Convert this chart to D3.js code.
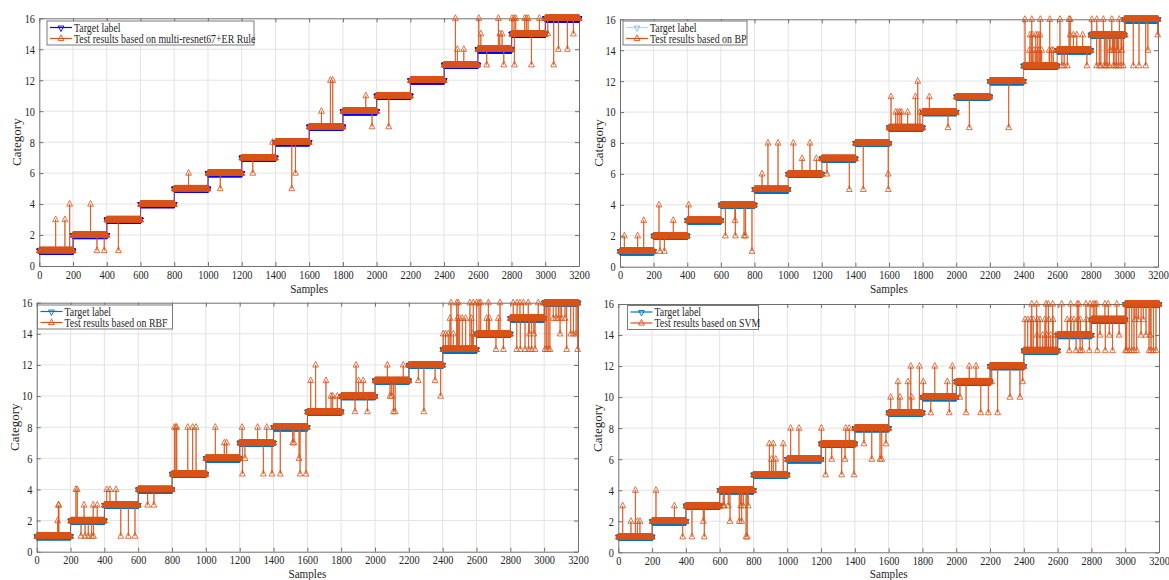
<!DOCTYPE html>
<html>
<head>
<meta charset="utf-8">
<script src="https://cdn.jsdelivr.net/npm/d3@7"></script>
<style>
  body { margin: 0; background: #fff; }
  svg text { font-family: "Liberation Serif", "Times New Roman", serif; fill: #262626; }
</style>
</head>
<body>
<div id="chart"></div>
<script>
// categories 1..16, 200 test samples each
const classes = [1, 2, 3, 4, 5, 6, 7, 8, 9, 10, 11, 12, 13, 14, 15, 16];
const samplesPerClass = 200;
const xTicks = [0, 200, 400, 600, 800, 1000, 1200, 1400, 1600, 1800, 2000, 2200, 2400, 2600, 2800, 3000, 3200];
const yTicks = [0, 2, 4, 6, 8, 10, 12, 14, 16];

// misclassified samples: [sample, predicted category]
const resnetErrors = [
  [97, 3], [152, 3], [180, 4], [304, 4], [342, 1], [385, 1], [469, 1], [885, 6], [1073, 5], [1266, 6],
  [1383, 8], [1497, 5], [1519, 6], [1673, 10], [1726, 12], [1740, 12], [1936, 11], [1973, 9],
  [2072, 9], [2467, 16], [2479, 14], [2517, 14], [2606, 16], [2618, 15], [2653, 13], [2722, 16], [2730, 15],
  [2744, 15], [2754, 13], [2803, 16], [2815, 16], [2817, 13], [2825, 16], [2878, 16], [2888, 16], [2898, 16],
  [2918, 13], [2965, 16], [3015, 15], [3050, 13], [3078, 14], [3131, 14], [3167, 15]
];
const bpErrors = [
  [26, 2], [105, 2], [141, 3], [232, 4], [238, 1], [264, 1], [317, 3], [408, 4], [627, 2], [684, 3], [686, 2],
  [738, 2], [747, 2], [785, 1], [845, 6], [880, 8], [940, 8], [1031, 8], [1083, 7], [1130, 8], [1168, 7],
  [1231, 6], [1364, 5], [1447, 5], [1595, 6], [1596, 5], [1612, 11], [1640, 10], [1652, 10], [1665, 10],
  [1675, 10], [1711, 10], [1757, 11], [1771, 12], [1784, 10], [1840, 11], [1951, 9], [2078, 9], [2312, 9],
  [2409, 16], [2435, 14], [2439, 15], [2449, 16], [2452, 15], [2462, 14], [2473, 15], [2478, 14], [2485, 15],
  [2492, 14], [2498, 15], [2500, 16], [2508, 14], [2553, 14], [2556, 16], [2568, 14], [2577, 14],
  [2617, 16], [2628, 13], [2642, 13], [2661, 13], [2671, 16], [2677, 15], [2678, 16], [2697, 15], [2717, 15],
  [2752, 15], [2777, 13], [2806, 16], [2835, 13], [2836, 16], [2851, 13], [2860, 13], [2875, 16], [2881, 13],
  [2890, 13], [2897, 13], [2911, 13], [2915, 14], [2925, 16], [2929, 14], [2935, 13], [2940, 14], [2944, 13],
  [2954, 13], [2960, 14], [2966, 13], [2970, 16], [2980, 13], [2985, 14], [2994, 13], [3005, 15], [3053, 13],
  [3087, 13], [3127, 13], [3140, 14], [3198, 15]
];
const rbfErrors = [
  [124, 2], [128, 3], [131, 3], [232, 4], [240, 4], [262, 1], [280, 3], [286, 1], [305, 1], [325, 1], [334, 3],
  [336, 1], [358, 3], [414, 4], [433, 4], [469, 4], [497, 1], [542, 1], [581, 1], [656, 3], [693, 3], [814, 8],
  [823, 8], [828, 8], [893, 8], [922, 8], [942, 8], [1056, 8], [1109, 7], [1123, 7], [1214, 8], [1216, 5],
  [1231, 6], [1306, 8], [1340, 5], [1360, 8], [1391, 5], [1440, 5], [1513, 7], [1521, 7], [1551, 6], [1557, 5],
  [1592, 5], [1620, 11], [1649, 12], [1710, 11], [1740, 10], [1750, 10], [1777, 10], [1882, 9], [1888, 12],
  [1903, 11], [1930, 11], [1955, 9], [2073, 12], [2089, 10], [2099, 10], [2109, 9], [2119, 9], [2167, 12],
  [2256, 11], [2289, 9], [2355, 11], [2388, 10], [2403, 14], [2417, 14], [2433, 14], [2443, 15], [2449, 16],
  [2463, 14], [2483, 16], [2487, 15], [2492, 16], [2500, 15], [2516, 15], [2536, 15], [2561, 16], [2570, 15],
  [2577, 14], [2581, 16], [2601, 16], [2615, 16], [2625, 16], [2660, 15], [2670, 16], [2676, 15], [2715, 13],
  [2729, 15], [2739, 16], [2759, 13], [2817, 16], [2838, 13], [2840, 16], [2857, 16], [2859, 13], [2877, 16],
  [2887, 13], [2906, 16], [2908, 13], [2912, 14], [2926, 13], [2939, 14], [2946, 13], [2965, 16], [3005, 13],
  [3015, 13], [3024, 13], [3034, 13], [3054, 15], [3070, 15], [3084, 15], [3094, 14], [3103, 15], [3123, 15],
  [3133, 13], [3157, 14], [3173, 14], [3189, 14], [3198, 13]
];
const svmErrors = [
  [26, 3], [75, 2], [101, 4], [113, 2], [128, 2], [223, 4], [332, 3], [381, 1], [436, 1], [503, 2], [509, 1],
  [621, 3], [627, 3], [651, 3], [661, 2], [716, 2], [725, 3], [730, 2], [740, 3], [756, 1], [763, 1], [769, 3],
  [894, 7], [907, 6], [917, 7], [932, 6], [976, 7], [1020, 8], [1069, 8], [1202, 8], [1227, 5], [1263, 6],
  [1322, 5], [1342, 6], [1346, 8], [1367, 8], [1395, 5], [1454, 7], [1500, 6], [1549, 6], [1559, 6], [1584, 7],
  [1612, 10], [1655, 11], [1667, 10], [1714, 11], [1731, 12], [1736, 10], [1782, 12], [1805, 11], [1849, 9],
  [1873, 12], [1947, 11], [1959, 9], [1977, 12], [2022, 10], [2058, 9], [2077, 12], [2117, 12], [2145, 9],
  [2190, 9], [2210, 11], [2245, 9], [2318, 10], [2377, 10], [2393, 11], [2407, 15], [2423, 15], [2441, 15],
  [2447, 16], [2456, 15], [2476, 16], [2478, 14], [2482, 15], [2496, 15], [2512, 14], [2525, 15], [2531, 16],
  [2535, 14], [2545, 16], [2547, 15], [2559, 14], [2571, 16], [2573, 15], [2590, 14], [2624, 16], [2657, 15],
  [2669, 13], [2677, 16], [2679, 15], [2697, 15], [2709, 13], [2716, 16], [2721, 15], [2725, 16], [2733, 13],
  [2735, 15], [2746, 13], [2768, 16], [2771, 15], [2788, 13], [2792, 16], [2811, 16], [2821, 16], [2831, 16],
  [2835, 13], [2851, 14], [2880, 16], [2882, 13], [2900, 16], [2906, 14], [2925, 13], [2950, 16], [2964, 14],
  [3002, 13], [3009, 13], [3024, 13], [3039, 13], [3052, 13], [3058, 15], [3068, 13], [3078, 15], [3094, 14],
  [3107, 15], [3123, 14], [3141, 13], [3147, 14], [3153, 13], [3167, 13], [3182, 13]
];

const orange = "#D95319";
const squeeze = 0.86;   // the source figure is a bit narrower than tall

const panels = [
  {errors: resnetErrors, name: "Test results based on multi-resnet67+ER Rule",
   x0: 39.3, x1: 579, y0: 266, y1: 18.3, tColor: "#0000FF", tLine: "#0000FF",
   leg: {x: 47, y: 21, w: 207}, ylab: 16, xlab: 293},
  {errors: bpErrors, name: "Test results based on BP",
   x0: 620, x1: 1158, y0: 266.7, y1: 19.3, tColor: "#0072BD", tLine: "#a9dcf5", mLeg: "#7cc3ea",
   leg: {x: 623, y: 21, w: 124}, ylab: 598, xlab: 293},
  {errors: rbfErrors, name: "Test results based on RBF",
   x0: 36.7, x1: 578, y0: 551.7, y1: 302.7, tColor: "#0072BD", tLine: "#0072BD",
   leg: {x: 37.5, y: 305, w: 135}, ylab: 14, xlab: 577.5},
  {errors: svmErrors, name: "Test results based on SVM",
   x0: 618.3, x1: 1159, y0: 552.3, y1: 304, tColor: "#0072BD", tLine: "#0072BD",
   leg: {x: 627.5, y: 305.5, w: 131}, ylab: 597, xlab: 577.5}
];

const svg = d3.select("#chart").append("svg")
  .attr("width", 1169).attr("height", 580);

function triangles(pts, x, y, up) {
  let d = "";
  pts.forEach(p => {
    const cx = x(p.s), cy = y(p.v);
    if (up) d += `M${cx},${cy - 3.6}L${cx + 2.9},${cy + 2.1}L${cx - 2.9},${cy + 2.1}Z`;
    else d += `M${cx - 2.9},${cy - 1.5}L${cx + 2.9},${cy - 1.5}L${cx},${cy + 4}Z`;
  });
  return d;
}

panels.forEach(p => {
  const g = svg.append("g");
  const x = d3.scaleLinear().domain([0, 3200]).range([p.x0, p.x1]);
  const y = d3.scaleLinear().domain([0, 16]).range([p.y0, p.y1]);

  // series
  const target = [];
  classes.forEach(c => {
    for (let k = 0; k < samplesPerClass; k++) target.push({s: target.length + 1, v: c});
  });
  const test = target.map(d => ({s: d.s, v: d.v}));
  p.errors.forEach(([s, v]) => { test[s - 1].v = v; });

  // grid
  g.selectAll(".gx").data(xTicks.slice(1, -1)).enter().append("line")
    .attr("x1", d => x(d)).attr("x2", d => x(d))
    .attr("y1", p.y0).attr("y2", p.y1)
    .attr("stroke", "#e3e3e3").attr("stroke-width", 1);
  g.selectAll(".gy").data(yTicks.slice(1, -1)).enter().append("line")
    .attr("x1", p.x0).attr("x2", p.x1)
    .attr("y1", d => y(d)).attr("y2", d => y(d))
    .attr("stroke", "#e3e3e3").attr("stroke-width", 1);

  // axes, ticks inside on every side
  const fmt = d3.format("d");
  const ax = [
    g.append("g").attr("transform", `translate(0,${p.y0})`)
      .call(d3.axisBottom(x).tickValues(xTicks).tickFormat(fmt).tickSizeInner(-4).tickSizeOuter(0).tickPadding(4)),
    g.append("g").attr("transform", `translate(${p.x0},0)`)
      .call(d3.axisLeft(y).tickValues(yTicks).tickFormat(fmt).tickSizeInner(-4).tickSizeOuter(0).tickPadding(5)),
    g.append("g").attr("transform", `translate(0,${p.y1})`)
      .call(d3.axisTop(x).tickValues(xTicks).tickSizeInner(-4).tickSizeOuter(0).tickFormat("")),
    g.append("g").attr("transform", `translate(${p.x1},0)`)
      .call(d3.axisRight(y).tickValues(yTicks).tickSizeInner(-4).tickSizeOuter(0).tickFormat(""))
  ];
  ax.forEach(a => {
    a.select(".domain").attr("stroke", "#6f6f6f");
    a.selectAll(".tick line").attr("stroke", "#6f6f6f");
    a.selectAll("text").style("font-size", "12px").attr("fill", "#262626")
      .attr("transform", `scale(${squeeze},1)`);
  });

  // axis titles
  g.append("text")
    .attr("transform", `translate(${p.ylab},${(p.y0 + p.y1) / 2}) rotate(-90)`)
    .attr("text-anchor", "middle").attr("dy", "0.35em")
    .style("font-size", "13px").text("Category");
  g.append("text")
    .attr("transform", `translate(${(p.x0 + p.x1) / 2},${p.xlab}) scale(${squeeze},1)`)
    .attr("text-anchor", "middle")
    .style("font-size", "13px").text("Samples");

  const line = d3.line().x(d => x(d.s)).y(d => y(d.v));

  g.append("path").attr("d", line(target))
    .attr("fill", "none").attr("stroke", p.tLine).attr("stroke-width", 1);
  g.append("path").attr("d", triangles(target, x, y, false))
    .attr("fill", "none").attr("stroke", p.tColor).attr("stroke-width", 0.9);

  g.append("path").attr("d", line(test))
    .attr("fill", "none").attr("stroke", orange).attr("stroke-width", 0.9)
    .attr("stroke-opacity", 0.85);
  g.append("path").attr("d", triangles(test, x, y, true))
    .attr("fill", "none").attr("stroke", orange).attr("stroke-width", 0.9)
    .attr("stroke-opacity", 0.9);

  // legend
  const lg = g.append("g").attr("transform", `translate(${p.leg.x},${p.leg.y})`);
  lg.append("rect").attr("width", p.leg.w).attr("height", 24)
    .attr("fill", "#fff").attr("stroke", "#7a7a7a").attr("stroke-width", 1);
  const items = [
    {label: "Target label", c: p.tLine, m: p.mLeg || p.tColor, up: false},
    {label: p.name, c: orange, m: orange, up: true}
  ];
  items.forEach((it, i) => {
    const cy = 6.5 + i * 11;
    lg.append("line").attr("x1", 3).attr("x2", 25).attr("y1", cy).attr("y2", cy)
      .attr("stroke", it.c).attr("stroke-width", 1.2);
    lg.append("path")
      .attr("d", triangles([{s: 0, v: 0}], () => 14, () => cy, it.up))
      .attr("fill", "none").attr("stroke", it.m).attr("stroke-width", 0.9);
    lg.append("text")
      .attr("transform", `translate(27,${cy}) scale(${squeeze},1)`)
      .attr("dy", "0.35em")
      .style("font-size", "11.5px").text(it.label);
  });
});
</script>
</body>
</html>
